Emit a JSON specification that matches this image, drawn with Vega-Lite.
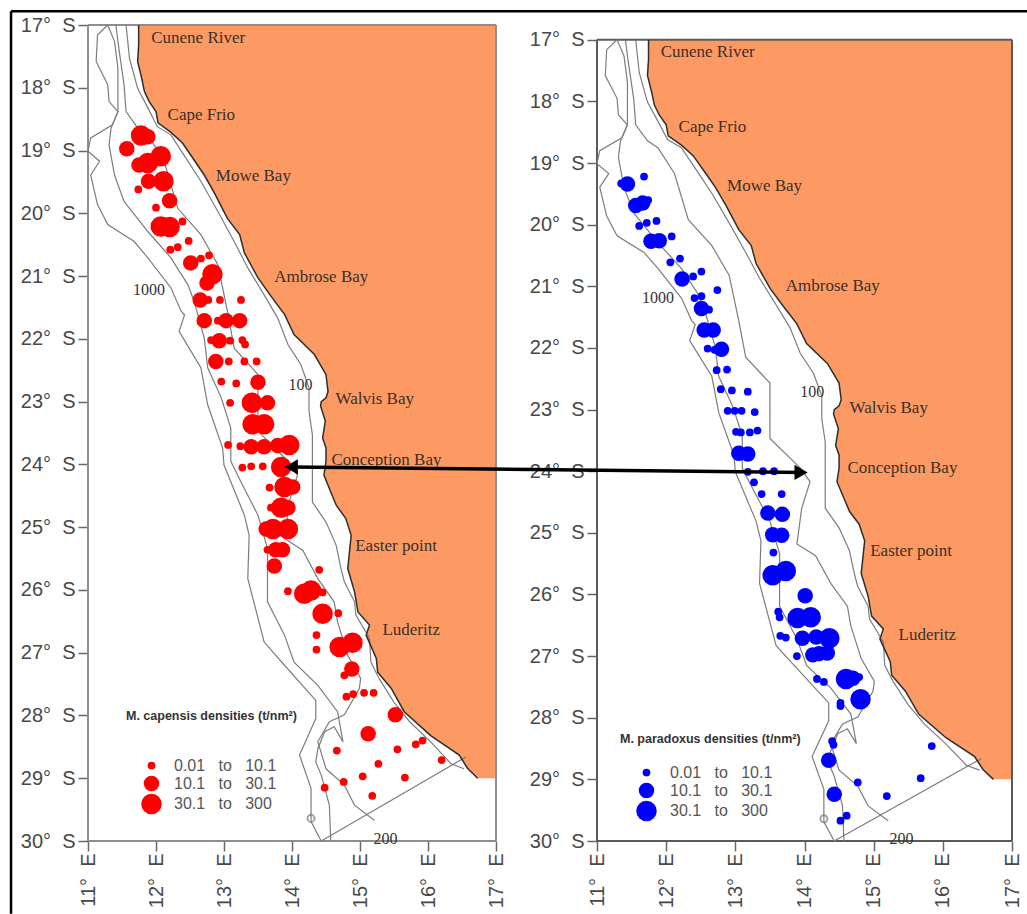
{
"$schema":"https://vega.github.io/schema/vega-lite/v6.json",
"padding":{"left":9,"top":9,"right":0,"bottom":0},
"background":"#ffffff",
"bounds":"flush",
"spacing":101,
"resolve":{"scale":{"size":"independent"},"legend":{"size":"independent"}},
"config":{"view":{"stroke":null},"axis":{"grid":false,"domain":false,"title":null,"labelFont":"Liberation Sans","labelFontSize":20,"labelColor":"#484848","tickColor":"#666666","tickSize":10,"tickWidth":1.5,"labelOverlap":false,"labelBound":false,"labelFlush":false}},
"datasets":{
"coast":[
{"i":0,"lon":11.745,"lat":17},{"i":1,"lon":11.745,"lat":17.32},{"i":2,"lon":11.73,"lat":17.58},{"i":3,"lon":11.79,"lat":17.85},{"i":4,"lon":11.83,"lat":18.06},{"i":5,"lon":11.9,"lat":18.22},{"i":6,"lon":12.0,"lat":18.38},{"i":7,"lon":12.03,"lat":18.56},{"i":8,"lon":12.22,"lat":18.71},{"i":9,"lon":12.39,"lat":18.88},{"i":10,"lon":12.56,"lat":19.15},{"i":11,"lon":12.71,"lat":19.39},{"i":12,"lon":12.86,"lat":19.68},{"i":13,"lon":13.05,"lat":20.08},{"i":14,"lon":13.23,"lat":20.34},{"i":15,"lon":13.3,"lat":20.63},{"i":16,"lon":13.5,"lat":21.03},{"i":17,"lon":13.69,"lat":21.32},{"i":18,"lon":13.89,"lat":21.61},{"i":19,"lon":14.03,"lat":21.93},{"i":20,"lon":14.33,"lat":22.25},{"i":21,"lon":14.5,"lat":22.57},{"i":22,"lon":14.53,"lat":22.84},{"i":23,"lon":14.5,"lat":22.94},{"i":24,"lon":14.43,"lat":23.0},{"i":25,"lon":14.42,"lat":23.07},{"i":26,"lon":14.49,"lat":23.31},{"i":27,"lon":14.45,"lat":23.58},{"i":28,"lon":14.5,"lat":23.74},{"i":29,"lon":14.5,"lat":23.95},{"i":30,"lon":14.47,"lat":24.17},{"i":31,"lon":14.57,"lat":24.44},{"i":32,"lon":14.65,"lat":24.65},{"i":33,"lon":14.79,"lat":24.86},{"i":34,"lon":14.87,"lat":25.13},{"i":35,"lon":14.82,"lat":25.66},{"i":36,"lon":14.92,"lat":26.03},{"i":37,"lon":14.97,"lat":26.35},{"i":38,"lon":15.14,"lat":26.56},{"i":39,"lon":15.09,"lat":26.72},{"i":40,"lon":15.24,"lat":27.09},{"i":41,"lon":15.26,"lat":27.31},{"i":42,"lon":15.46,"lat":27.57},{"i":43,"lon":15.65,"lat":27.94},{"i":44,"lon":16.04,"lat":28.32},{"i":45,"lon":16.46,"lat":28.63},{"i":46,"lon":16.58,"lat":28.84},{"i":47,"lon":16.73,"lat":29.0}],
"contours":[
{"d":"1000","i":0,"lon":11.29,"lat":17.0},{"d":"1000","i":1,"lon":11.14,"lat":17.16},{"d":"1000","i":2,"lon":11.12,"lat":17.58},{"d":"1000","i":3,"lon":11.29,"lat":17.95},{"d":"1000","i":4,"lon":11.31,"lat":18.22},{"d":"1000","i":5,"lon":11.44,"lat":18.38},{"d":"1000","i":6,"lon":11.36,"lat":18.59},{"d":"1000","i":7,"lon":11.04,"lat":18.8},{"d":"1000","i":8,"lon":11.0,"lat":19.01},{"d":"1000","i":9,"lon":11.17,"lat":19.17},{"d":"1000","i":10,"lon":11.04,"lat":19.39},{"d":"1000","i":11,"lon":11.14,"lat":19.86},{"d":"1000","i":12,"lon":11.29,"lat":20.18},{"d":"1000","i":13,"lon":11.68,"lat":20.45},{"d":"1000","i":14,"lon":11.88,"lat":20.71},{"d":"1000","i":15,"lon":12.22,"lat":21.19},{"d":"1000","i":16,"lon":12.37,"lat":21.56},{"d":"1000","i":17,"lon":12.42,"lat":21.62},{"d":"1000","i":18,"lon":12.34,"lat":21.88},{"d":"1000","i":19,"lon":12.66,"lat":22.46},{"d":"1000","i":20,"lon":12.76,"lat":23.05},{"d":"1000","i":21,"lon":12.98,"lat":23.74},{"d":"1000","i":22,"lon":13.0,"lat":24.01},{"d":"1000","i":23,"lon":13.3,"lat":24.81},{"d":"1000","i":24,"lon":13.37,"lat":25.13},{"d":"1000","i":25,"lon":13.35,"lat":25.82},{"d":"1000","i":26,"lon":13.59,"lat":26.83},{"d":"1000","i":27,"lon":13.89,"lat":27.2},{"d":"1000","i":28,"lon":14.35,"lat":27.76},{"d":"1000","i":29,"lon":14.35,"lat":28.05},{"d":"1000","i":30,"lon":14.11,"lat":28.63},{"d":"1000","i":31,"lon":14.28,"lat":29.16},{"d":"1000","i":32,"lon":14.28,"lat":29.69},{"d":"1000","i":33,"lon":14.43,"lat":30.0},
{"d":"500","i":0,"lon":11.29,"lat":17.0},{"d":"500","i":1,"lon":11.39,"lat":17.26},{"d":"500","i":2,"lon":11.44,"lat":17.69},{"d":"500","i":3,"lon":11.44,"lat":18.38},{"d":"500","i":4,"lon":11.34,"lat":18.64},{"d":"500","i":5,"lon":11.31,"lat":18.91},{"d":"500","i":6,"lon":11.39,"lat":19.39},{"d":"500","i":7,"lon":11.53,"lat":19.81},{"d":"500","i":8,"lon":11.88,"lat":20.29},{"d":"500","i":9,"lon":12.22,"lat":20.71},{"d":"500","i":10,"lon":12.47,"lat":21.14},{"d":"500","i":11,"lon":12.56,"lat":21.4},{"d":"500","i":12,"lon":12.71,"lat":21.99},{"d":"500","i":13,"lon":12.76,"lat":22.46},{"d":"500","i":14,"lon":12.96,"lat":22.94},{"d":"500","i":15,"lon":13.1,"lat":23.42},{"d":"500","i":16,"lon":13.1,"lat":23.95},{"d":"500","i":17,"lon":13.25,"lat":24.28},{"d":"500","i":18,"lon":13.5,"lat":24.81},{"d":"500","i":19,"lon":13.64,"lat":25.34},{"d":"500","i":20,"lon":13.64,"lat":26.19},{"d":"500","i":21,"lon":13.89,"lat":26.72},{"d":"500","i":22,"lon":14.03,"lat":27.15},{"d":"500","i":23,"lon":14.38,"lat":27.52},{"d":"500","i":24,"lon":14.67,"lat":27.94},{"d":"500","i":25,"lon":14.75,"lat":28.42},{"d":"500","i":26,"lon":14.62,"lat":28.18},{"d":"500","i":27,"lon":14.48,"lat":28.26},{"d":"500","i":28,"lon":14.38,"lat":28.53},{"d":"500","i":29,"lon":14.35,"lat":28.74},{"d":"500","i":30,"lon":14.43,"lat":28.95},{"d":"500","i":31,"lon":14.55,"lat":29.43},{"d":"500","i":32,"lon":14.57,"lat":30.0},
{"d":"200","i":0,"lon":11.41,"lat":17.0},{"d":"200","i":1,"lon":11.46,"lat":17.42},{"d":"200","i":2,"lon":11.53,"lat":17.95},{"d":"200","i":3,"lon":11.56,"lat":18.38},{"d":"200","i":4,"lon":11.73,"lat":18.64},{"d":"200","i":5,"lon":11.88,"lat":18.75},{"d":"200","i":6,"lon":12.12,"lat":19.17},{"d":"200","i":7,"lon":12.32,"lat":19.92},{"d":"200","i":8,"lon":12.66,"lat":20.34},{"d":"200","i":9,"lon":12.91,"lat":20.82},{"d":"200","i":10,"lon":13.05,"lat":21.56},{"d":"200","i":11,"lon":13.15,"lat":22.15},{"d":"200","i":12,"lon":13.5,"lat":22.57},{"d":"200","i":13,"lon":13.5,"lat":23.47},{"d":"200","i":14,"lon":13.94,"lat":23.95},{"d":"200","i":15,"lon":14.08,"lat":24.17},{"d":"200","i":16,"lon":13.96,"lat":24.6},{"d":"200","i":17,"lon":13.89,"lat":25.18},{"d":"200","i":18,"lon":14.16,"lat":25.37},{"d":"200","i":19,"lon":14.38,"lat":25.82},{"d":"200","i":20,"lon":14.62,"lat":26.19},{"d":"200","i":21,"lon":14.67,"lat":26.51},{"d":"200","i":22,"lon":14.82,"lat":27.04},{"d":"200","i":23,"lon":15.01,"lat":27.41},{"d":"200","i":24,"lon":14.99,"lat":27.57},{"d":"200","i":25,"lon":14.77,"lat":27.99},{"d":"200","i":26,"lon":14.55,"lat":28.1},{"d":"200","i":27,"lon":14.38,"lat":28.42},{"d":"200","i":28,"lon":14.5,"lat":28.85},{"d":"200","i":29,"lon":14.77,"lat":29.11},{"d":"200","i":30,"lon":14.92,"lat":29.43},{"d":"200","i":31,"lon":15.21,"lat":29.67},
{"d":"100","i":0,"lon":11.56,"lat":17.0},{"d":"100","i":1,"lon":11.61,"lat":17.53},{"d":"100","i":2,"lon":11.73,"lat":18.01},{"d":"100","i":3,"lon":11.88,"lat":18.32},{"d":"100","i":4,"lon":12.02,"lat":18.62},{"d":"100","i":5,"lon":12.22,"lat":18.75},{"d":"100","i":6,"lon":12.44,"lat":19.12},{"d":"100","i":7,"lon":12.66,"lat":19.49},{"d":"100","i":8,"lon":12.91,"lat":19.97},{"d":"100","i":9,"lon":13.15,"lat":20.45},{"d":"100","i":10,"lon":13.35,"lat":20.87},{"d":"100","i":11,"lon":13.59,"lat":21.3},{"d":"100","i":12,"lon":13.79,"lat":21.67},{"d":"100","i":13,"lon":13.94,"lat":22.09},{"d":"100","i":14,"lon":14.13,"lat":22.41},{"d":"100","i":15,"lon":14.25,"lat":22.78},{"d":"100","i":16,"lon":14.25,"lat":23.15},{"d":"100","i":17,"lon":14.3,"lat":23.53},{"d":"100","i":18,"lon":14.3,"lat":23.95},{"d":"100","i":19,"lon":14.3,"lat":24.6},{"d":"100","i":20,"lon":14.5,"lat":24.92},{"d":"100","i":21,"lon":14.65,"lat":25.29},{"d":"100","i":22,"lon":14.72,"lat":25.66},{"d":"100","i":23,"lon":14.77,"lat":25.87},{"d":"100","i":24,"lon":14.92,"lat":26.19},{"d":"100","i":25,"lon":14.94,"lat":26.4},{"d":"100","i":26,"lon":15.14,"lat":26.77},{"d":"100","i":27,"lon":15.16,"lat":27.15},{"d":"100","i":28,"lon":15.28,"lat":27.41},{"d":"100","i":29,"lon":15.5,"lat":27.79},{"d":"100","i":30,"lon":15.73,"lat":28.1},{"d":"100","i":31,"lon":16.04,"lat":28.42},{"d":"100","i":32,"lon":16.34,"lat":28.77},{"d":"100","i":33,"lon":16.53,"lat":28.85},
{"d":"limit","i":0,"lon":14.43,"lat":30.0},{"d":"limit","i":1,"lon":16.56,"lat":28.66}],
"box":[{"lon":11,"lon2":17,"lat":17,"lat2":17},{"lon":11,"lon2":17,"lat":30,"lat2":30},{"lon":11,"lon2":11,"lat":17,"lat2":30},{"lon":17,"lon2":17,"lat":17,"lat2":30}],
"sounding":[{"lon":14.28,"lat":29.64}]
},
"hconcat":[
{"width":408,"height":816,
"encoding":{"x":{"field":"lon","type":"quantitative","scale":{"domain":[11,17],"nice":false,"zero":false},"axis":{"values":[11,12,13,14,15,16,17],"labelExpr":"datum.value + '°\u00a0\u00a0E'","labelAngle":270,"labelAlign":"right","labelBaseline":"middle","labelPadding":2}},
"y":{"field":"lat","type":"quantitative","scale":{"domain":[17,30],"nice":false,"zero":false,"reverse":true},"axis":{"values":[17,18,19,20,21,22,23,24,25,26,27,28,29,30],"labelExpr":"datum.value + '°\u00a0\u00a0S'","labelPadding":3}}},
"layer":[
{"data":{"values":[{"lon":9.868,"lon2":24.82,"lat":16.78,"lat2":16.78},{"lon":9.868,"lon2":9.868,"lat":16.78,"lat2":31.16}]},"mark":{"type":"rule","color":"#000000","strokeWidth":2.5},"encoding":{"x2":{"field":"lon2"},"y2":{"field":"lat2"}}},
{"data":{"name":"coast"},"mark":{"type":"area","orient":"horizontal","color":"#FD9A64"},"encoding":{"x2":{"datum":17}}},
{"data":{"name":"box"},"mark":{"type":"rule","color":"#8e8e8e","strokeWidth":2},"encoding":{"x2":{"field":"lon2"},"y2":{"field":"lat2"}}},
{"data":{"name":"contours"},"mark":{"type":"line","color":"#7d7d7d","strokeWidth":1.2},"encoding":{"detail":{"field":"d"},"order":{"field":"i","type":"quantitative"}}},
{"data":{"name":"coast"},"mark":{"type":"line","color":"#2e2e2e","strokeWidth":1.5},"encoding":{"order":{"field":"i","type":"quantitative"}}},
{"data":{"name":"sounding"},"mark":{"type":"point","color":"#7d7d7d","size":50,"filled":false}},
{"data":{"values":[
{"lon":11.78,"lat":18.76,"c":"high"},{"lon":11.88,"lat":18.78,"c":"mid"},{"lon":11.57,"lat":18.97,"c":"mid"},{"lon":12.07,"lat":19.09,"c":"high"},{"lon":11.88,"lat":19.2,"c":"high"},{"lon":11.75,"lat":19.23,"c":"mid"},{"lon":12.11,"lat":19.49,"c":"high"},{"lon":11.89,"lat":19.49,"c":"mid"},{"lon":11.74,"lat":19.62,"c":"low"},{"lon":12.2,"lat":19.8,"c":"mid"},{"lon":12.0,"lat":19.91,"c":"low"},{"lon":12.39,"lat":20.13,"c":"low"},{"lon":12.07,"lat":20.21,"c":"high"},{"lon":12.2,"lat":20.22,"c":"high"},{"lon":12.48,"lat":20.44,"c":"low"},{"lon":12.21,"lat":20.58,"c":"low"},{"lon":12.32,"lat":20.54,"c":"low"},{"lon":12.78,"lat":20.67,"c":"low"},{"lon":12.51,"lat":20.79,"c":"mid"},{"lon":12.66,"lat":20.72,"c":"low"},{"lon":12.83,"lat":20.97,"c":"high"},{"lon":12.75,"lat":21.11,"c":"mid"},{"lon":12.65,"lat":21.38,"c":"mid"},{"lon":12.77,"lat":21.38,"c":"low"},{"lon":12.94,"lat":21.38,"c":"low"},{"lon":13.25,"lat":21.38,"c":"low"},{"lon":12.71,"lat":21.71,"c":"mid"},{"lon":12.91,"lat":21.71,"c":"low"},{"lon":13.03,"lat":21.71,"c":"mid"},{"lon":13.23,"lat":21.71,"c":"mid"},{"lon":12.93,"lat":22.03,"c":"mid"},{"lon":12.81,"lat":22.02,"c":"low"},{"lon":13.09,"lat":22.03,"c":"low"},{"lon":13.27,"lat":22.02,"c":"low"},{"lon":13.31,"lat":22.09,"c":"low"},{"lon":12.88,"lat":22.36,"c":"mid"},{"lon":13.07,"lat":22.36,"c":"low"},{"lon":13.3,"lat":22.36,"c":"low"},{"lon":13.48,"lat":22.36,"c":"low"},{"lon":13.5,"lat":22.69,"c":"mid"},{"lon":12.96,"lat":22.68,"c":"low"},{"lon":13.18,"lat":22.71,"c":"low"},{"lon":13.41,"lat":23.02,"c":"high"},{"lon":13.64,"lat":23.02,"c":"mid"},{"lon":13.09,"lat":23.02,"c":"low"},{"lon":13.42,"lat":23.36,"c":"high"},{"lon":13.59,"lat":23.36,"c":"high"},{"lon":13.06,"lat":23.69,"c":"low"},{"lon":13.24,"lat":23.71,"c":"low"},{"lon":13.4,"lat":23.72,"c":"mid"},{"lon":13.59,"lat":23.72,"c":"mid"},{"lon":13.79,"lat":23.7,"c":"mid"},{"lon":13.96,"lat":23.69,"c":"high"},{"lon":13.84,"lat":24.04,"c":"high"},{"lon":13.57,"lat":24.03,"c":"low"},{"lon":13.4,"lat":24.03,"c":"low"},{"lon":13.27,"lat":24.05,"c":"low"},{"lon":13.89,"lat":24.36,"c":"high"},{"lon":14.01,"lat":24.36,"c":"mid"},{"lon":13.67,"lat":24.37,"c":"low"},{"lon":13.84,"lat":24.69,"c":"high"},{"lon":13.69,"lat":24.69,"c":"low"},{"lon":13.94,"lat":24.69,"c":"mid"},{"lon":13.72,"lat":25.03,"c":"high"},{"lon":13.94,"lat":25.03,"c":"high"},{"lon":13.62,"lat":25.03,"c":"mid"},{"lon":13.76,"lat":25.36,"c":"mid"},{"lon":13.64,"lat":25.36,"c":"low"},{"lon":13.86,"lat":25.36,"c":"mid"},{"lon":13.74,"lat":25.62,"c":"mid"},{"lon":14.4,"lat":25.68,"c":"low"},{"lon":13.94,"lat":26.02,"c":"low"},{"lon":14.18,"lat":26.06,"c":"high"},{"lon":14.28,"lat":26.01,"c":"high"},{"lon":14.45,"lat":26.04,"c":"low"},{"lon":14.45,"lat":26.38,"c":"high"},{"lon":14.68,"lat":26.37,"c":"low"},{"lon":14.36,"lat":26.72,"c":"low"},{"lon":14.36,"lat":26.95,"c":"low"},{"lon":14.7,"lat":26.91,"c":"high"},{"lon":14.89,"lat":26.84,"c":"high"},{"lon":14.88,"lat":27.26,"c":"mid"},{"lon":14.77,"lat":27.36,"c":"low"},{"lon":14.8,"lat":27.7,"c":"low"},{"lon":14.9,"lat":27.66,"c":"low"},{"lon":15.06,"lat":27.64,"c":"low"},{"lon":15.2,"lat":27.64,"c":"low"},{"lon":15.52,"lat":27.99,"c":"mid"},{"lon":15.12,"lat":28.29,"c":"mid"},{"lon":14.66,"lat":28.56,"c":"low"},{"lon":15.55,"lat":28.54,"c":"low"},{"lon":15.82,"lat":28.46,"c":"low"},{"lon":15.92,"lat":28.4,"c":"low"},{"lon":15.27,"lat":28.77,"c":"low"},{"lon":16.2,"lat":28.71,"c":"low"},{"lon":14.76,"lat":29.06,"c":"low"},{"lon":15.04,"lat":28.97,"c":"low"},{"lon":15.66,"lat":28.99,"c":"low"},{"lon":14.48,"lat":29.15,"c":"low"},{"lon":15.18,"lat":29.28,"c":"low"}]},
"mark":{"type":"circle","color":"#ff0000","opacity":1},
"encoding":{"size":{"field":"c","type":"ordinal","scale":{"domain":["low","mid","high"],"range":[60,420,850]},"legend":{"orient":"none","legendX":38,"legendY":685,"title":"M. capensis densities (t/nm²)","titleFont":"Liberation Sans","titleFontSize":12.5,"titleFontWeight":"bold","titleColor":"#333333","titlePadding":35,"titleLimit":300,"symbolFillColor":"#ff0000","symbolStrokeWidth":0,"symbolOffset":15,"labelFont":"Liberation Sans","labelFontSize":16,"labelColor":"#555555","labelOffset":12,"labelExpr":"datum.label == 'low' ? '0.01\u00a0\u00a0\u00a0to\u00a0\u00a0\u00a010.1' : datum.label == 'mid' ? '10.1\u00a0\u00a0\u00a0to\u00a0\u00a0\u00a030.1' : '30.1\u00a0\u00a0\u00a0to\u00a0\u00a0\u00a0300'","rowPadding":2,"padding":0}}}},
{"data":{"values":[{"lon":11.93,"lat":17.2,"t":"Cunene River"},{"lon":12.17,"lat":18.44,"t":"Cape Frio"},{"lon":12.88,"lat":19.4,"t":"Mowe Bay"},{"lon":13.74,"lat":21.02,"t":"Ambrose Bay"},{"lon":14.64,"lat":22.96,"t":"Walvis Bay"},{"lon":14.58,"lat":23.93,"t":"Conception Bay"},{"lon":14.93,"lat":25.3,"t":"Easter point"},{"lon":15.33,"lat":26.64,"t":"Luderitz"}]},"mark":{"type":"text","font":"Liberation Serif","fontSize":17,"color":"#3a3027","align":"left","baseline":"middle"},"encoding":{"text":{"field":"t"}}},
{"data":{"values":[{"lon":11.66,"lat":21.22,"t":"1000"},{"lon":13.95,"lat":22.73,"t":"100"},{"lon":15.2,"lat":29.97,"t":"200"}]},"mark":{"type":"text","font":"Liberation Serif","fontSize":16,"color":"#333333","align":"left","baseline":"middle"},"encoding":{"text":{"field":"t"}}}
]},
{"width":415,"height":816,
"encoding":{"x":{"field":"lon","type":"quantitative","scale":{"domain":[11,17],"nice":false,"zero":false},"axis":{"values":[11,12,13,14,15,16,17],"labelExpr":"datum.value + '°\u00a0\u00a0E'","labelAngle":270,"labelAlign":"right","labelBaseline":"middle","labelPadding":2}},
"y":{"field":"lat","type":"quantitative","scale":{"domain":[16.76,30],"nice":false,"zero":false,"reverse":true},"axis":{"values":[17,18,19,20,21,22,23,24,25,26,27,28,29,30],"labelExpr":"datum.value + '°\u00a0\u00a0S'","labelPadding":3}}},
"layer":[
{"data":{"name":"coast"},"mark":{"type":"area","orient":"horizontal","color":"#FD9A64"},"encoding":{"x2":{"datum":17}}},
{"data":{"name":"box"},"mark":{"type":"rule","color":"#5a5a5a","strokeWidth":2},"encoding":{"x2":{"field":"lon2"},"y2":{"field":"lat2"}}},
{"data":{"name":"contours"},"mark":{"type":"line","color":"#7d7d7d","strokeWidth":1.2},"encoding":{"detail":{"field":"d"},"order":{"field":"i","type":"quantitative"}}},
{"data":{"name":"coast"},"mark":{"type":"line","color":"#2e2e2e","strokeWidth":1.5},"encoding":{"order":{"field":"i","type":"quantitative"}}},
{"data":{"name":"sounding"},"mark":{"type":"point","color":"#7d7d7d","size":50,"filled":false}},
{"data":{"values":[
{"lon":11.68,"lat":19.22,"c":"low"},{"lon":11.44,"lat":19.34,"c":"mid"},{"lon":11.35,"lat":19.33,"c":"low"},{"lon":11.56,"lat":19.69,"c":"mid"},{"lon":11.66,"lat":19.65,"c":"mid"},{"lon":11.74,"lat":19.6,"c":"low"},{"lon":11.61,"lat":20.02,"c":"low"},{"lon":11.72,"lat":19.97,"c":"low"},{"lon":11.86,"lat":19.94,"c":"low"},{"lon":11.78,"lat":20.27,"c":"mid"},{"lon":11.9,"lat":20.26,"c":"mid"},{"lon":12.08,"lat":20.19,"c":"low"},{"lon":12.06,"lat":20.61,"c":"low"},{"lon":12.2,"lat":20.55,"c":"low"},{"lon":12.23,"lat":20.88,"c":"mid"},{"lon":12.39,"lat":20.84,"c":"low"},{"lon":12.51,"lat":20.76,"c":"low"},{"lon":12.74,"lat":21.06,"c":"low"},{"lon":12.41,"lat":21.19,"c":"low"},{"lon":12.51,"lat":21.16,"c":"low"},{"lon":12.51,"lat":21.36,"c":"mid"},{"lon":12.62,"lat":21.38,"c":"low"},{"lon":12.55,"lat":21.71,"c":"mid"},{"lon":12.68,"lat":21.71,"c":"mid"},{"lon":12.8,"lat":22.02,"c":"mid"},{"lon":12.6,"lat":22.01,"c":"low"},{"lon":12.7,"lat":22.03,"c":"low"},{"lon":12.73,"lat":22.36,"c":"low"},{"lon":12.88,"lat":22.35,"c":"low"},{"lon":12.79,"lat":22.67,"c":"low"},{"lon":12.95,"lat":22.69,"c":"low"},{"lon":13.18,"lat":22.71,"c":"low"},{"lon":12.89,"lat":23.02,"c":"low"},{"lon":12.99,"lat":23.02,"c":"low"},{"lon":13.09,"lat":23.02,"c":"low"},{"lon":13.28,"lat":23.04,"c":"low"},{"lon":13.01,"lat":23.36,"c":"low"},{"lon":13.08,"lat":23.37,"c":"low"},{"lon":13.21,"lat":23.37,"c":"low"},{"lon":13.32,"lat":23.34,"c":"low"},{"lon":13.05,"lat":23.71,"c":"mid"},{"lon":13.18,"lat":23.72,"c":"mid"},{"lon":13.18,"lat":24.01,"c":"low"},{"lon":13.4,"lat":24.0,"c":"low"},{"lon":13.56,"lat":24.0,"c":"low"},{"lon":13.27,"lat":24.18,"c":"low"},{"lon":13.38,"lat":24.37,"c":"low"},{"lon":13.67,"lat":24.37,"c":"low"},{"lon":13.47,"lat":24.68,"c":"mid"},{"lon":13.68,"lat":24.7,"c":"mid"},{"lon":13.54,"lat":25.03,"c":"mid"},{"lon":13.67,"lat":25.04,"c":"mid"},{"lon":13.55,"lat":25.32,"c":"low"},{"lon":13.54,"lat":25.69,"c":"high"},{"lon":13.73,"lat":25.62,"c":"high"},{"lon":14.01,"lat":26.02,"c":"mid"},{"lon":13.62,"lat":26.28,"c":"low"},{"lon":13.64,"lat":26.37,"c":"low"},{"lon":13.9,"lat":26.38,"c":"high"},{"lon":14.09,"lat":26.37,"c":"high"},{"lon":13.65,"lat":26.67,"c":"low"},{"lon":13.73,"lat":26.7,"c":"low"},{"lon":13.97,"lat":26.71,"c":"mid"},{"lon":14.17,"lat":26.69,"c":"mid"},{"lon":14.36,"lat":26.71,"c":"high"},{"lon":13.89,"lat":27.0,"c":"low"},{"lon":14.12,"lat":26.98,"c":"mid"},{"lon":14.21,"lat":26.96,"c":"mid"},{"lon":14.33,"lat":26.95,"c":"mid"},{"lon":14.18,"lat":27.37,"c":"low"},{"lon":14.28,"lat":27.42,"c":"low"},{"lon":14.6,"lat":27.37,"c":"high"},{"lon":14.7,"lat":27.36,"c":"mid"},{"lon":14.79,"lat":27.34,"c":"low"},{"lon":14.81,"lat":27.7,"c":"high"},{"lon":14.52,"lat":27.76,"c":"low"},{"lon":14.52,"lat":27.81,"c":"low"},{"lon":14.4,"lat":28.38,"c":"low"},{"lon":14.42,"lat":28.44,"c":"low"},{"lon":14.35,"lat":28.69,"c":"mid"},{"lon":15.84,"lat":28.46,"c":"low"},{"lon":15.68,"lat":28.98,"c":"low"},{"lon":14.77,"lat":29.05,"c":"low"},{"lon":14.43,"lat":29.24,"c":"mid"},{"lon":15.19,"lat":29.27,"c":"low"},{"lon":14.61,"lat":29.59,"c":"low"},{"lon":14.52,"lat":29.67,"c":"low"}]},
"mark":{"type":"circle","color":"#0000ff","opacity":1},
"encoding":{"size":{"field":"c","type":"ordinal","scale":{"domain":["low","mid","high"],"range":[60,420,850]},"legend":{"orient":"none","legendX":23,"legendY":708,"title":"M. paradoxus densities (t/nm²)","titleFont":"Liberation Sans","titleFontSize":12.5,"titleFontWeight":"bold","titleColor":"#333333","titlePadding":19,"titleLimit":300,"symbolFillColor":"#0000ff","symbolStrokeWidth":0,"symbolOffset":16,"labelFont":"Liberation Sans","labelFontSize":16,"labelColor":"#555555","labelOffset":13,"labelExpr":"datum.label == 'low' ? '0.01\u00a0\u00a0\u00a0to\u00a0\u00a0\u00a010.1' : datum.label == 'mid' ? '10.1\u00a0\u00a0\u00a0to\u00a0\u00a0\u00a030.1' : '30.1\u00a0\u00a0\u00a0to\u00a0\u00a0\u00a0300'","rowPadding":2,"padding":0}}}},
{"data":{"values":[{"lon":11.92,"lat":17.2,"t":"Cunene River"},{"lon":12.18,"lat":18.42,"t":"Cape Frio"},{"lon":12.88,"lat":19.37,"t":"Mowe Bay"},{"lon":13.73,"lat":20.99,"t":"Ambrose Bay"},{"lon":14.65,"lat":22.97,"t":"Walvis Bay"},{"lon":14.62,"lat":23.95,"t":"Conception Bay"},{"lon":14.95,"lat":25.3,"t":"Easter point"},{"lon":15.36,"lat":26.65,"t":"Luderitz"}]},"mark":{"type":"text","font":"Liberation Serif","fontSize":17,"color":"#3a3027","align":"left","baseline":"middle"},"encoding":{"text":{"field":"t"}}},
{"data":{"values":[{"lon":11.65,"lat":21.19,"t":"1000"},{"lon":13.94,"lat":22.72,"t":"100"},{"lon":15.23,"lat":29.96,"t":"200"}]},"mark":{"type":"text","font":"Liberation Serif","fontSize":16,"color":"#333333","align":"left","baseline":"middle"},"encoding":{"text":{"field":"t"}}},
{"data":{"values":[{"lon":6.58,"lon2":13.95,"lat":23.93,"lat2":24.02}]},"mark":{"type":"rule","color":"#000000","strokeWidth":3.5},"encoding":{"x2":{"field":"lon2"},"y2":{"field":"lat2"}}},
{"data":{"values":[{"lon":6.58,"lat":23.93,"head":"triangle-left"},{"lon":13.95,"lat":24.02,"head":"triangle-right"}]},"mark":{"type":"point","filled":true,"color":"#000000","size":230,"opacity":1},"encoding":{"shape":{"field":"head","type":"nominal","scale":null}}}
]}
]
}
